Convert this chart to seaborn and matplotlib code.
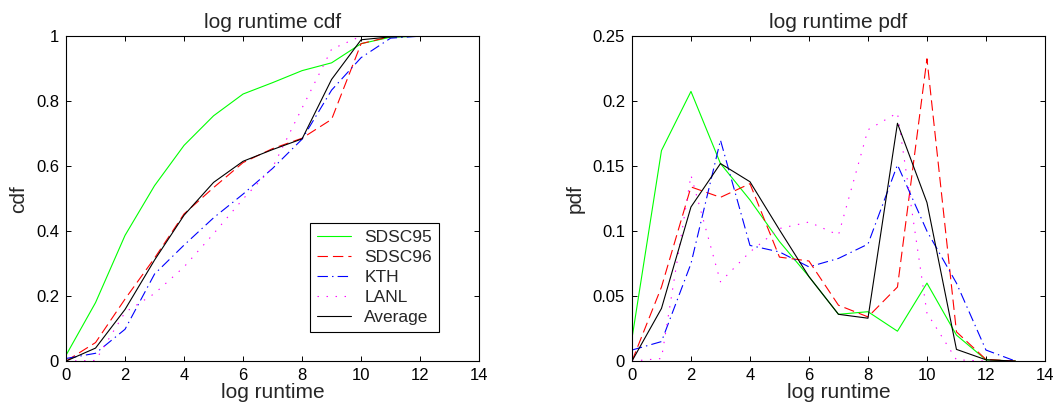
import numpy as np
import pandas as pd
import matplotlib
matplotlib.use("Agg")
import matplotlib.pyplot as plt
import seaborn as sns

# log runtime bins
log_runtime = list(range(14))

traces = ["SDSC95", "SDSC96", "KTH", "LANL", "Average"]

# cumulative distribution of log runtime
cdf_sdsc95 = [0.018, 0.180, 0.387, 0.540, 0.664, 0.755, 0.822, 0.857, 0.894, 0.918, 0.977, 0.997, 1.0, 1.0]
cdf_sdsc96 = [0.0, 0.057, 0.191, 0.317, 0.453, 0.534, 0.611, 0.654, 0.686, 0.744, 0.977, 0.999, 1.0, 1.0]
cdf_kth = [0.008, 0.024, 0.098, 0.268, 0.357, 0.441, 0.514, 0.593, 0.683, 0.834, 0.934, 0.994, 1.0, 1.0]
cdf_lanl = [0.0, 0.002, 0.150, 0.208, 0.290, 0.392, 0.499, 0.596, 0.779, 0.960, 1.0, 1.0, 1.0, 1.0]
cdf_avg = [0.0, 0.040, 0.159, 0.311, 0.449, 0.550, 0.615, 0.651, 0.684, 0.867, 0.989, 0.998, 1.0, 1.0]

# probability density of log runtime
pdf_sdsc95 = [0.0174, 0.162, 0.2075, 0.152, 0.124, 0.092, 0.065, 0.036, 0.038, 0.023, 0.060, 0.020, 0.001, 0.0]
pdf_sdsc96 = [0.0, 0.057, 0.134, 0.126, 0.1365, 0.080, 0.077, 0.043, 0.034, 0.057, 0.2326, 0.0225, 0.0013, 0.0]
pdf_kth = [0.0085, 0.015, 0.075, 0.170, 0.089, 0.084, 0.0725, 0.079, 0.090, 0.151, 0.100, 0.060, 0.0085, 0.0]
pdf_lanl = [0.0, 0.002, 0.143, 0.061, 0.084, 0.102, 0.107, 0.097, 0.178, 0.191, 0.037, 0.001, 0.0, 0.0]
pdf_avg = [0.0, 0.0405, 0.1186, 0.152, 0.138, 0.101, 0.065, 0.036, 0.033, 0.183, 0.122, 0.009, 0.001, 0.0]

sns.set_style("ticks")
plt.rcParams["font.family"] = ["Liberation Sans", "DejaVu Sans"]
plt.rcParams["lines.scale_dashes"] = False

palette = {"SDSC95": "#00ff00", "SDSC96": "#ff0000", "KTH": "#0000ff",
           "LANL": "#ff00ff", "Average": "#000000"}
dashes = {"SDSC95": "", "SDSC96": (7.5, 3.6), "KTH": (7.5, 3.0, 1.0, 3.0),
          "LANL": (1.0, 5.5), "Average": ""}


def long_frame(series, name):
    rows = []
    for trace, vals in zip(traces, series):
        for x, v in zip(log_runtime, vals):
            rows.append({"log runtime": x, name: v, "trace": trace})
    return pd.DataFrame(rows)


cdf_df = long_frame([cdf_sdsc95, cdf_sdsc96, cdf_kth, cdf_lanl, cdf_avg], "cdf")
pdf_df = long_frame([pdf_sdsc95, pdf_sdsc96, pdf_kth, pdf_lanl, pdf_avg], "pdf")

fig = plt.figure(figsize=(10.6, 4.16), dpi=100)
ax1 = fig.add_axes([0.0623, 0.132, 0.3897, 0.781])
ax2 = fig.add_axes([0.5962, 0.132, 0.3896, 0.781])

for ax, df, col, ymax, yticks, title, show_leg in [
    (ax1, cdf_df, "cdf", 1.0, [0, 0.2, 0.4, 0.6, 0.8, 1], "log runtime cdf", True),
    (ax2, pdf_df, "pdf", 0.25, [0, 0.05, 0.1, 0.15, 0.2, 0.25], "log runtime pdf", False),
]:
    sns.lineplot(data=df, x="log runtime", y=col, hue="trace", style="trace",
                 hue_order=traces, style_order=traces, palette=palette,
                 dashes=dashes, linewidth=0.8, ax=ax, legend=show_leg,
                 sort=False, estimator=None)
    ax.set_xlim(0, 14)
    ax.set_ylim(0, ymax)
    ax.set_xticks(range(0, 15, 2))
    ax.set_yticks(yticks)
    ax.set_yticklabels(["%g" % t for t in yticks])
    ax.tick_params(direction="in", length=3.6, width=0.7, top=True, right=True,
                   labelsize=12, pad=5, colors="black")
    for sp in ax.spines.values():
        sp.set_visible(True)
        sp.set_linewidth(0.8)
        sp.set_color("black")
    ax.set_xlabel("log runtime", fontsize=15, labelpad=0)
    ax.set_ylabel(col, fontsize=15, labelpad=6)
    ax.set_title(title, fontsize=15, pad=6)

handles, labels = ax1.get_legend_handles_labels()
leg = ax1.legend(handles, labels, loc="lower right", bbox_to_anchor=(0.903, 0.089),
                 fontsize=12.5, frameon=True, fancybox=False, handlelength=2.0,
                 borderpad=0.4, labelspacing=0.28, handletextpad=0.75,
                 borderaxespad=0)
leg.get_frame().set_edgecolor("black")
leg.get_frame().set_linewidth(0.8)
leg.get_frame().set_alpha(1)

fig.savefig("out.png", dpi=100)
